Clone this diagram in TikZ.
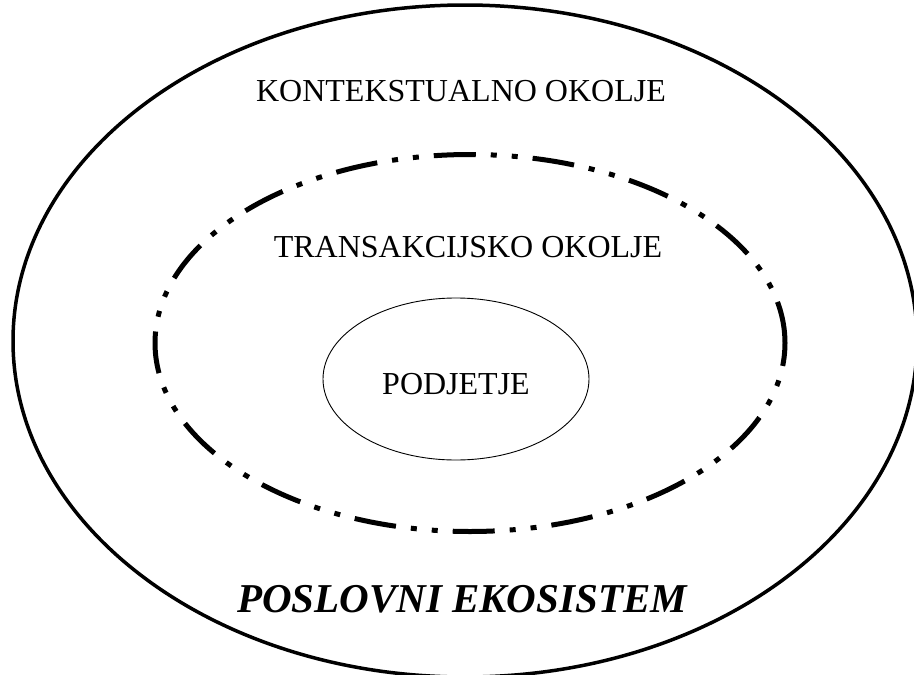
\documentclass[tikz,border=0pt]{standalone}
\usepackage{fontspec}
\setmainfont{Liberation Serif}
\usetikzlibrary{shapes.geometric}
\tikzset{
  ring/.style={draw=black, shape=ellipse, inner sep=0pt},
  outerring/.style={ring, line width=3.5pt},
  midring/.style={ring, line width=5pt, line cap=butt,
    dash pattern=on 42pt off 15pt on 6pt off 15pt on 6pt off 15pt},
  innerring/.style={ring, line width=0.9pt},
  label32/.style={font=\fontsize{32}{38}\selectfont, inner sep=0pt},
  title41/.style={font=\fontsize{41}{48}\selectfont\bfseries\itshape, inner sep=0pt}
}
\begin{document}
\begin{tikzpicture}[x=1pt, y=-1pt]
  \useasboundingbox (0,0) rectangle (914,675);
  \clip (0,0) rectangle (914,675);
  \fill[white] (0,0) rectangle (914,675);

  % nested environments
  \node[outerring, minimum width=904pt, minimum height=672pt] (outer) at (465,341) {};
  \node[midring, minimum width=630pt, minimum height=377pt] (mid) at (470,343) {};
  \node[innerring, minimum width=266pt, minimum height=162pt] (firm) at (456,379) {};

  % labels
  \node[label32] (ctx) at (461,91) {KONTEKSTUALNO OKOLJE};
  \node[label32] (trx) at (468,247) {TRANSAKCIJSKO OKOLJE};
  \node[label32] (pod) at (456,384) {PODJETJE};
  \node[title41] (eco) at (462,599) {POSLOVNI EKOSISTEM};
\end{tikzpicture}
\end{document}
